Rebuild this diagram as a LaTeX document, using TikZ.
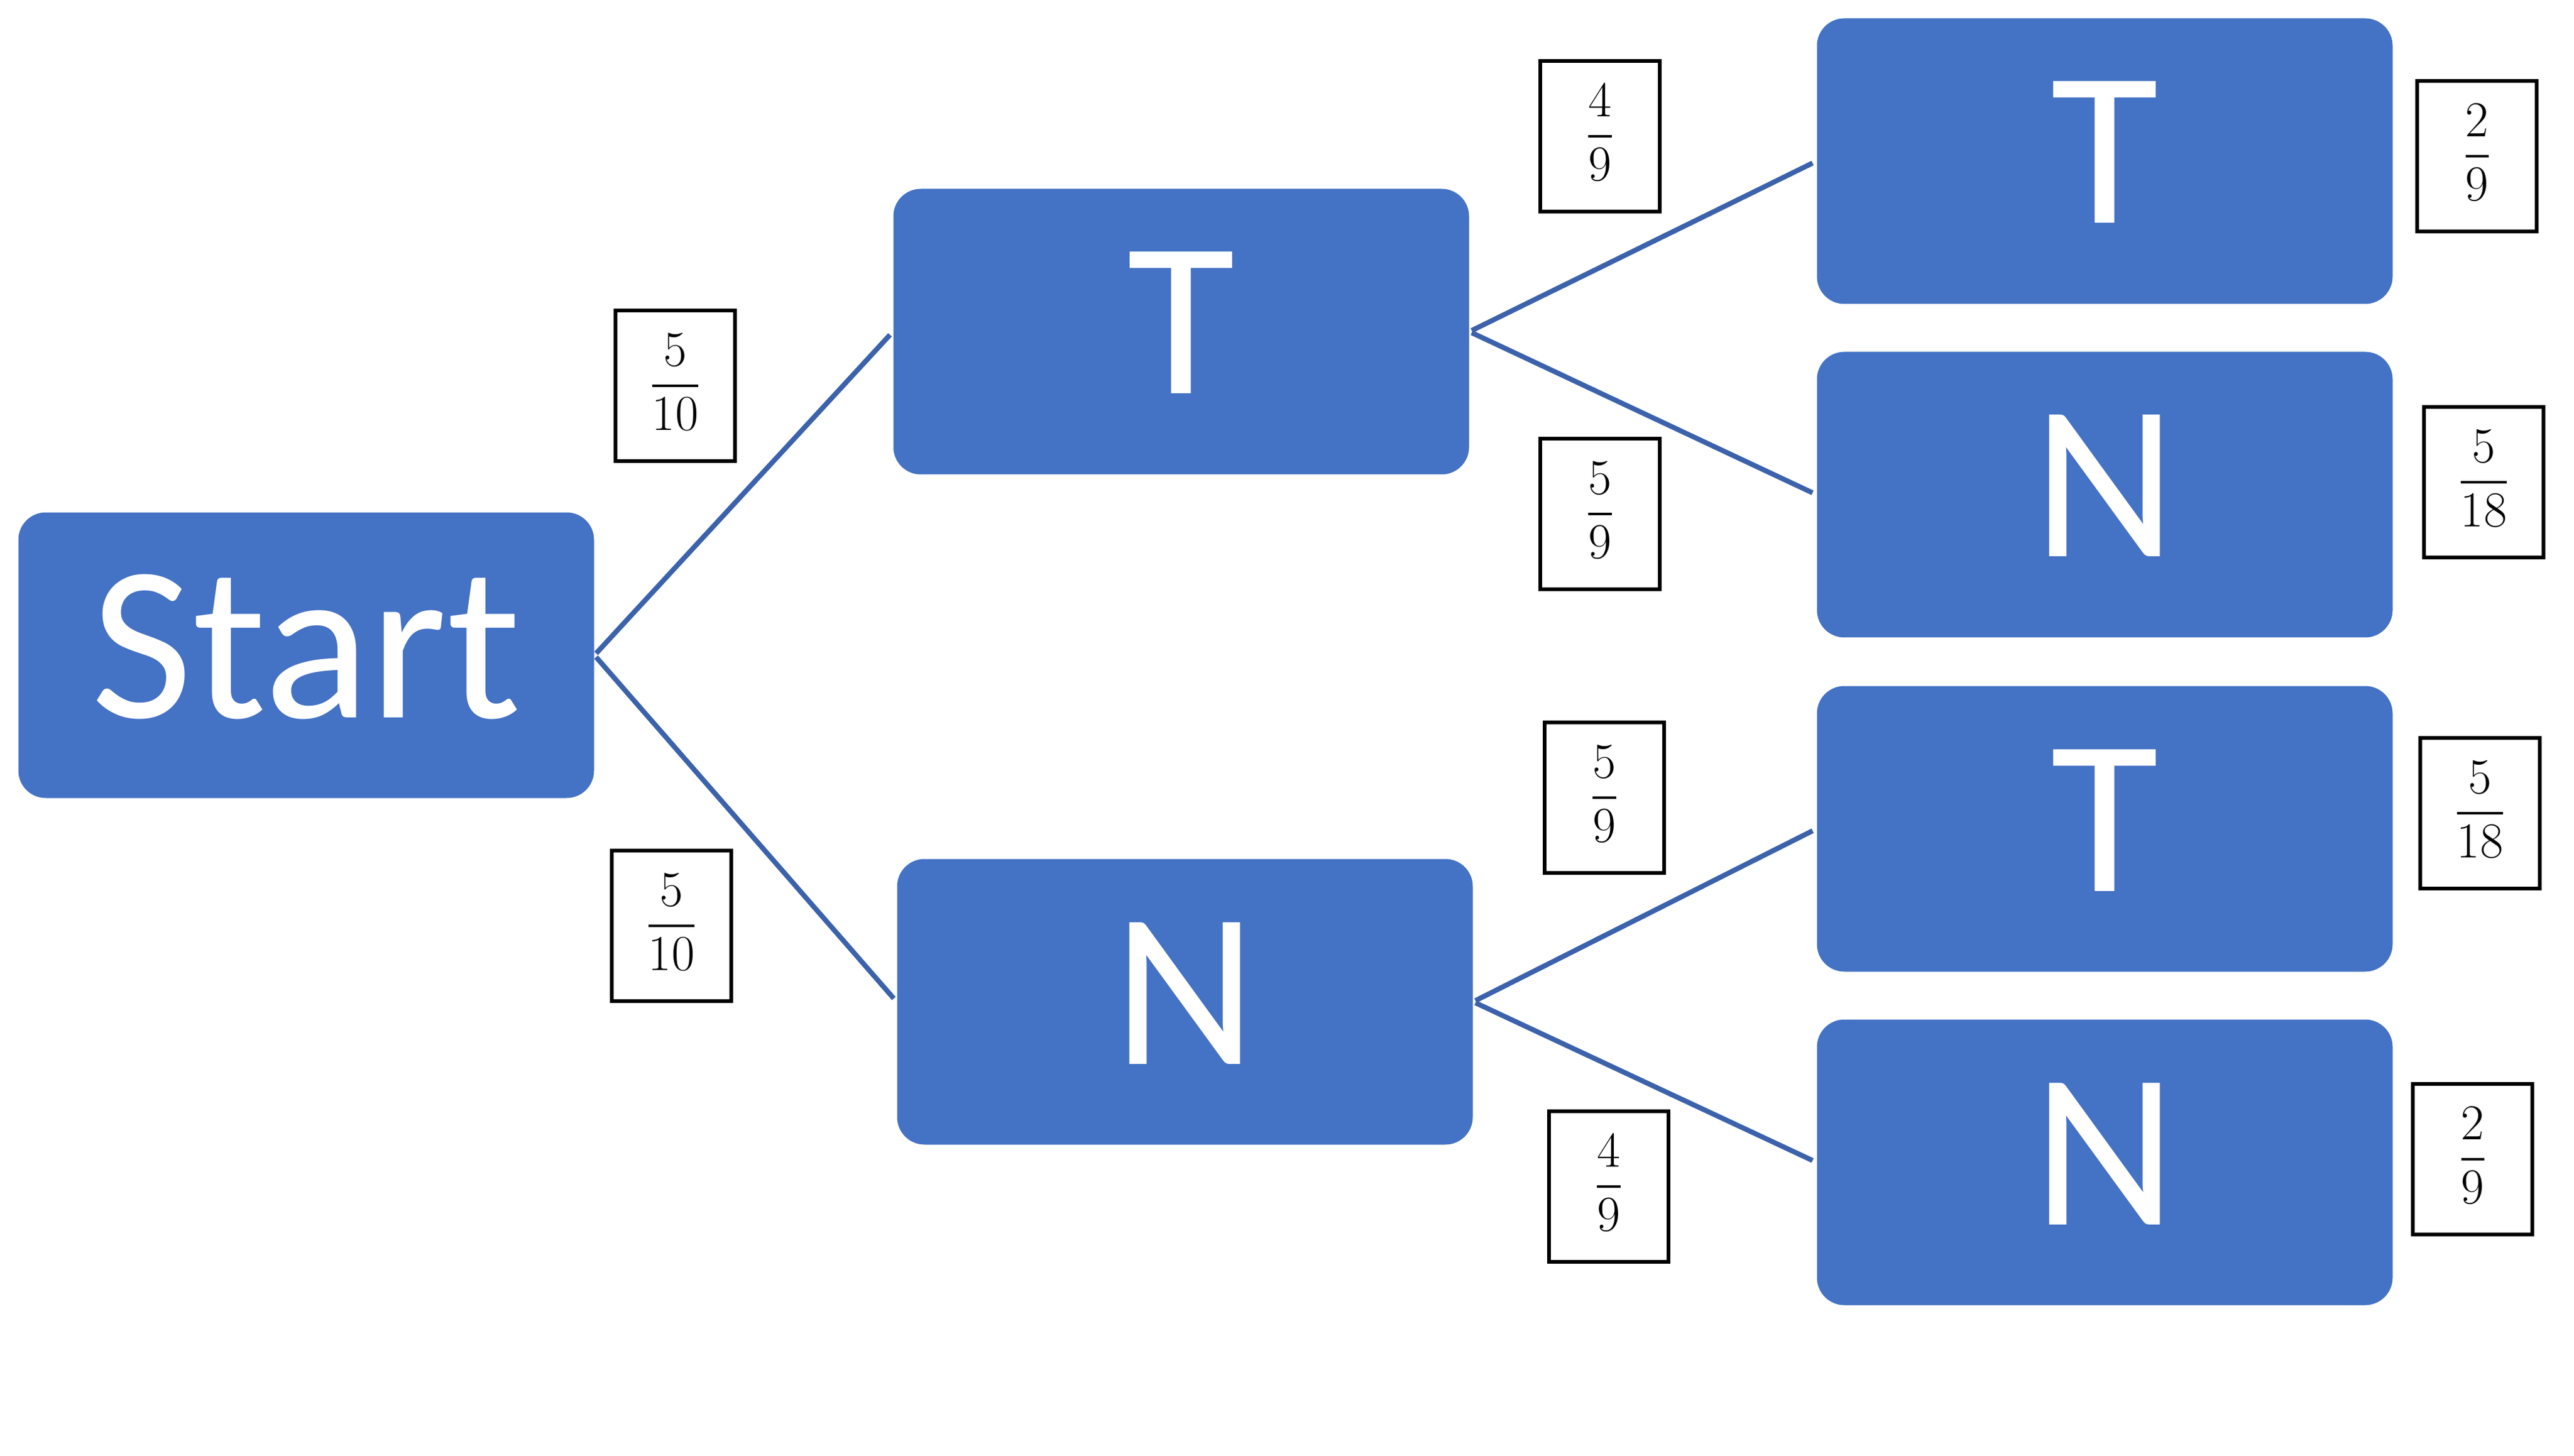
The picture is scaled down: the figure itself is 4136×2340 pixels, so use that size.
\documentclass[tikz,border=0pt]{standalone}
\usepackage{fontspec}
\newfontfamily\boxfont{Carlito}
\definecolor{boxblue}{HTML}{4472C4}
\definecolor{lineblue}{HTML}{3B62AB}
\setlength{\arrayrulewidth}{1.4pt}
\newcommand\pfrac[2]{\fontsize{23}{28}\selectfont\begin{tabular}{@{}c@{}}#1\\\hline #2\end{tabular}}
\begin{document}
\begin{tikzpicture}[x=0.1mm,y=-0.1mm,
  bluebox/.style={fill=boxblue, rounded corners=4.4mm, minimum width=92.5mm,
    minimum height=45.9mm, inner sep=0pt, text=white,
    font=\boxfont\fontsize{101}{110}\selectfont, text height=23.2mm, text depth=3.2mm},
  probbox/.style={draw=black, line width=0.6mm, minimum width=19.2mm,
    minimum height=24.2mm, inner sep=0pt},
  branch/.style={draw=lineblue, line width=0.8mm, shorten <=0.4mm, shorten >=0.7mm}]
\useasboundingbox (0,0) rectangle (4136,2340);

% tree nodes
\node[bluebox] (S)  at (492,1053) {Start};
\node[bluebox] (T1) at (1898,533) {T};
\node[bluebox] (N1) at (1904,1610) {N};
\node[bluebox] (TT) at (3382,259) {T};
\node[bluebox] (TN) at (3382,795) {N};
\node[bluebox] (NT) at (3382,1332) {T};
\node[bluebox] (NN) at (3382,1868) {N};

% branches
\draw[branch] (S.east) -- (T1.west);
\draw[branch] (S.east) -- (N1.west);
\draw[branch] (T1.east) -- (TT.west);
\draw[branch] (T1.east) -- (TN.west);
\draw[branch] (N1.east) -- (NT.west);
\draw[branch] (N1.east) -- (NN.west);

% branch probabilities
\node[probbox] (pT1) at (1085,620)  {\pfrac{5}{10}};
\node[probbox] (pN1) at (1079,1488) {\pfrac{5}{10}};
\node[probbox] (pTT) at (2571,219)  {\pfrac{4}{9}};
\node[probbox] (pTN) at (2571,826)  {\pfrac{5}{9}};
\node[probbox] (pNT) at (2578,1282) {\pfrac{5}{9}};
\node[probbox] (pNN) at (2585,1907) {\pfrac{4}{9}};

% outcome probabilities
\node[probbox] (rTT) at (3980,251)  {\pfrac{2}{9}};
\node[probbox] (rTN) at (3991,775)  {\pfrac{5}{18}};
\node[probbox] (rNT) at (3985,1307) {\pfrac{5}{18}};
\node[probbox] (rNN) at (3973,1863) {\pfrac{2}{9}};
\end{tikzpicture}
\end{document}
